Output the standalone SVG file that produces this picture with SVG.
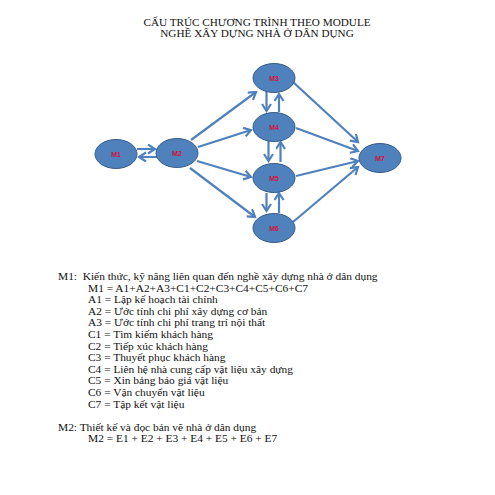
<svg xmlns="http://www.w3.org/2000/svg" width="495" height="495" viewBox="0 0 495 495">
<style>
.node ellipse{fill:#4F81BD;stroke:#385D8A;stroke-width:1}
.node text{fill:#D0143C;font-family:"Liberation Sans",Arial,sans-serif;font-weight:bold;font-size:7px;text-anchor:middle}
.conn line{stroke:#4F81BD;stroke-width:2.2;marker-end:url(#ah)}
.title{font-family:"Liberation Serif","Times New Roman",serif;font-size:11.2px;text-anchor:middle;fill:#111}
.body{font-family:"Liberation Serif","Times New Roman",serif;font-size:11.4px;fill:#111}
</style>
<defs>
<marker id="ah" markerUnits="userSpaceOnUse" markerWidth="12" markerHeight="12" refX="8" refY="5" orient="auto">
<path d="M1,0.5 L8,5 L1,9.5" fill="none" stroke="#4F81BD" stroke-width="2.2"/>
</marker>
</defs>
<rect width="495" height="495" fill="#fff"/>
<text class="title" x="257" y="26">CẤU TRÚC CHƯƠNG TRÌNH THEO MODULE</text>
<text class="title" x="257" y="37.3">NGHỀ XÂY DỰNG NHÀ Ở DÂN DỤNG</text>
<g class="conn">
<line x1="137" y1="149" x2="155" y2="149"/>
<line x1="157" y1="157" x2="139" y2="157"/>
<line x1="191" y1="140" x2="256" y2="92"/>
<line x1="198" y1="147" x2="251" y2="130"/>
<line x1="197" y1="161" x2="251" y2="177"/>
<line x1="190" y1="168" x2="255" y2="217"/>
<line x1="293" y1="82" x2="358" y2="142"/>
<line x1="296" y1="128" x2="358" y2="151"/>
<line x1="296" y1="176" x2="358" y2="161"/>
<line x1="293" y1="222" x2="358" y2="167"/>
<line x1="266.5" y1="92" x2="266.5" y2="111"/>
<line x1="279" y1="112" x2="279" y2="94"/>
<line x1="268.5" y1="141" x2="268.5" y2="161"/>
<line x1="280.5" y1="162" x2="280.5" y2="142"/>
<line x1="266.5" y1="193" x2="266.5" y2="211"/>
<line x1="279" y1="213" x2="279" y2="193"/>
</g>
<g id="M1" class="node"><ellipse cx="116" cy="154" rx="21" ry="14.5"/><text x="116" y="156.5">M1</text></g>
<g id="M2" class="node"><ellipse cx="177" cy="153" rx="21" ry="14.5"/><text x="177" y="155.5">M2</text></g>
<g id="M3" class="node"><ellipse cx="274" cy="78" rx="21" ry="14.5"/><text x="274" y="80.5">M3</text></g>
<g id="M4" class="node"><ellipse cx="274" cy="127" rx="21" ry="14.5"/><text x="274" y="129.5">M4</text></g>
<g id="M5" class="node"><ellipse cx="274" cy="178" rx="21" ry="14.5"/><text x="274" y="180.5">M5</text></g>
<g id="M6" class="node"><ellipse cx="274" cy="228" rx="21" ry="14.5"/><text x="274" y="230.5">M6</text></g>
<g id="M7" class="node"><ellipse cx="380" cy="158" rx="21" ry="14.5"/><text x="380" y="160.5">M7</text></g>
<text class="body" x="58" y="280" xml:space="preserve">M1:  Kiến thức, kỹ năng liên quan đến nghề xây dựng nhà ở dân dụng</text>
<text class="body" x="88" y="291.6">M1 = A1+A2+A3+C1+C2+C3+C4+C5+C6+C7</text>
<text class="body" x="88" y="303.2">A1 = Lập kế hoạch tài chính</text>
<text class="body" x="88" y="314.8">A2 = Ước tính chi phí xây dựng cơ bản</text>
<text class="body" x="88" y="326.4">A3 = Ước tính chi phí trang trí nội thất</text>
<text class="body" x="88" y="338">C1 = Tìm kiếm khách hàng</text>
<text class="body" x="88" y="349.6">C2 = Tiếp xúc khách hàng</text>
<text class="body" x="88" y="361.2">C3 = Thuyết phục khách hàng</text>
<text class="body" x="88" y="372.8">C4 = Liên hệ nhà cung cấp vật liệu xây dựng</text>
<text class="body" x="88" y="384.4">C5 = Xin bảng báo giá vật liệu</text>
<text class="body" x="88" y="396">C6 = Vận chuyển vật liệu</text>
<text class="body" x="88" y="407.6">C7 = Tập kết vật liệu</text>
<text class="body" x="58" y="430.8">M2: Thiết kế và đọc bản vẽ nhà ở dân dụng</text>
<text class="body" x="88" y="442.4">M2 = E1 + E2 + E3 + E4 + E5 + E6 + E7</text>
</svg>
